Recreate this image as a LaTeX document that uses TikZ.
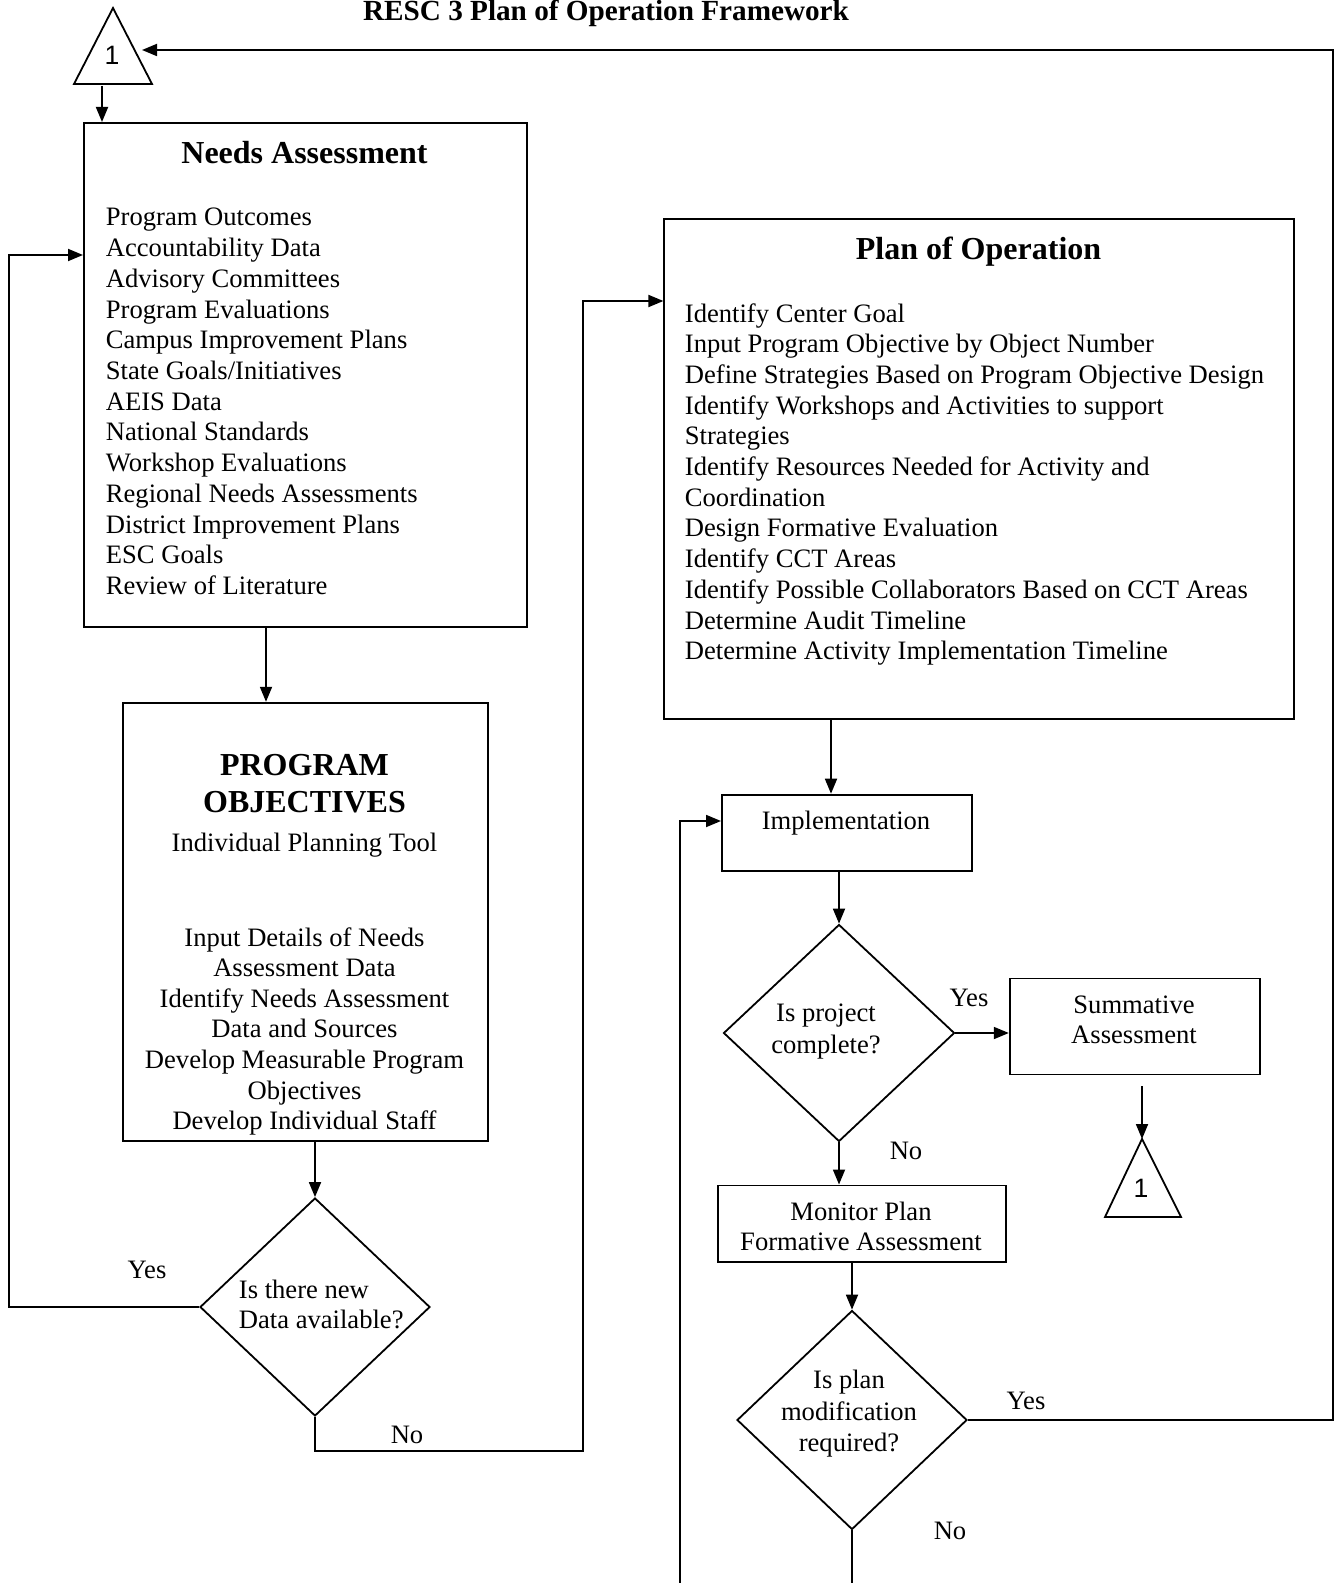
\documentclass[tikz,border=0pt]{standalone}
\usepackage{fontspec}
\setmainfont{Liberation Serif}
\newfontfamily\arialf{Liberation Sans}
\usetikzlibrary{arrows.meta,shapes.geometric}
\begin{document}
\begin{tikzpicture}[x=0.5pt,y=-0.5pt,line width=0.9pt,
  box/.style={draw, rectangle, inner sep=0, anchor=north west},
  dia/.style={draw, diamond, inner sep=0},
  txt/.style={font=\fontsize{13.3}{15.35}\selectfont, inner sep=0, anchor=base},
  ltxt/.style={txt, anchor=base west},
  hd/.style={font=\bfseries\fontsize{16}{18}\selectfont, inner sep=0, anchor=base},
  ttl/.style={font=\bfseries\fontsize{14.6}{16}\selectfont, inner sep=0, anchor=base},
  arr/.style={-{Triangle[length=7.5pt,width=6pt]}},
  one/.style={font=\arialf\fontsize{13.3}{15}\selectfont, inner sep=0}
]
\useasboundingbox (0,0) rectangle (1338,1583);

% title
\node[ttl] (title) at (606,21) {RESC 3 Plan of Operation Framework};

% triangle 1 (top)
\coordinate (t1a) at (113,8);
\coordinate (t1l) at (74,84);
\coordinate (t1rb) at (152,84);
\draw (t1a) -- (t1rb) -- (t1l) -- cycle;
\node[one] (t1n) at (112,55) {1};
\coordinate (t1b) at (102,86);
\coordinate (t1r) at (142,50);

% Needs Assessment
\node[box, minimum width=221.6pt, minimum height=252pt] (na) at (83,122) {};
\node[hd] (nat) at (304.5,164) {Needs Assessment};
\foreach [count=\i from 0] \t in {Program Outcomes, Accountability Data, Advisory Committees, Program Evaluations, Campus Improvement Plans, State Goals/Initiatives, AEIS Data, National Standards, Workshop Evaluations, Regional Needs Assessments, District Improvement Plans, ESC Goals, Review of Literature}
  \node[ltxt] (na\i) at (105,{226+30.7*\i}) {\t};

% Program objectives
\begin{scope}
\clip (122,702) rectangle (487,1140);
\node[hd] (pot1) at (304.5,775) {PROGRAM};
\node[hd] (pot2) at (304.5,812) {OBJECTIVES};
\node[txt] (pot3) at (304.5,851) {Individual Planning Tool};
\foreach [count=\i from 0] \t in {Input Details of Needs, Assessment Data, Identify Needs Assessment, Data and Sources, Develop Measurable Program, Objectives, Develop Individual Staff}
  \node[txt] (po\i) at (304.5,{946+30.6*\i}) {\t};
\end{scope}
\node[box, minimum width=182.25pt, minimum height=219.15pt] (po) at (122.2,701.8) {};

% Plan of Operation
\node[box, minimum width=315pt, minimum height=250pt] (pl) at (663.4,218.1) {};
\node[hd] (plt) at (978.5,260) {Plan of Operation};
\foreach [count=\i from 0] \t in {Identify Center Goal, Input Program Objective by Object Number, Define Strategies Based on Program Objective Design, Identify Workshops and Activities to support, Strategies, Identify Resources Needed for Activity and, Coordination, Design Formative Evaluation, Identify CCT Areas, Identify Possible Collaborators Based on CCT Areas, Determine Audit Timeline, Determine Activity Implementation Timeline}
  \node[ltxt] (pl\i) at (684,{322+30.7*\i}) {\t};

% Implementation
\node[box, minimum width=125.2pt, minimum height=38.35pt] (im) at (721,793.7) {};
\node[txt] (imt) at (846,829) {Implementation};

% diamond 1
\node[dia, minimum width=115pt, minimum height=109pt] (d1) at (315,1307) {};
\node[ltxt] (d1a) at (238,1298) {Is there new};
\node[ltxt] (d1b) at (238,1328) {Data available?};

% diamond 2
\node[dia, minimum width=115.5pt, minimum height=108.5pt] (d2) at (839,1033) {};
\node[txt] (d2a) at (826,1021) {Is project};
\node[txt] (d2b) at (826,1053) {complete?};

% Summative
\node[box, minimum width=125.2pt, minimum height=48pt] (su) at (1008.8,977.5) {};
\node[txt] (sua) at (1134,1013) {Summative};
\node[txt] (sub) at (1134,1043) {Assessment};

% triangle 2
\coordinate (t2a) at (1142,1139);
\coordinate (t2l) at (1105,1217);
\coordinate (t2r) at (1181,1217);
\draw (t2a) -- (t2r) -- (t2l) -- cycle;
\node[one] (t2n) at (1141,1188) {1};
\coordinate (s2) at (1142,1086);

% Monitor
\node[box, minimum width=143.9pt, minimum height=38.35pt] (mo) at (717,1184.5) {};
\node[txt] (moa) at (861,1220) {Monitor Plan};
\node[txt] (mob) at (861,1250) {Formative Assessment};

% diamond 3
\node[dia, minimum width=115pt, minimum height=109.5pt] (d3) at (852,1420) {};
\node[txt] (d3a) at (849,1388) {Is plan};
\node[txt] (d3b) at (849,1420) {modification};
\node[txt] (d3c) at (849,1451) {required?};

% labels
\node[txt] (y1) at (147,1278) {Yes};
\node[txt] (n1) at (407,1443) {No};
\node[txt] (y2) at (969,1006) {Yes};
\node[txt] (n2) at (906,1159) {No};
\node[txt] (y3) at (1026,1409) {Yes};
\node[txt] (n3) at (950,1539) {No};

% free ends at bottom
\coordinate (b1) at (680,1583);
\coordinate (b2) at (852,1583);

% connectors
\draw[arr] (t1b) -- (t1b |- na.north);
\draw[arr] (na.south -| 266,0) -- (po.north -| 266,0);
\draw[arr] (po.south -| d1.north) -- (d1.north);
\draw[arr] (d1.west) -- (9,0 |- d1.west) -- (9,255) -- (na.west |- 0,255);
\draw[arr] (d1.south) -- (d1.south |- 0,1451) -- (583,1451) -- (583,301) -- (pl.west |- 0,301);
\draw[arr] (pl.south -| 831,0) -- (im.north -| 831,0);
\draw[arr] (b1) -- (680,821) -- (im.west |- 0,821);
\draw[arr] (im.south -| d2.north) -- (d2.north);
\draw[arr] (d2.east) -- (su.west |- d2.east);
\draw[arr] (s2) -- (t2a);
\draw[arr] (d2.south) -- (mo.north -| d2.south);
\draw[arr] (mo.south -| d3.north) -- (d3.north);
\draw[arr] (d3.east) -- (1333,0 |- d3.east) -- (1333,50) -- (t1r);
\draw (d3.south) -- (b2);
\end{tikzpicture}
\end{document}
